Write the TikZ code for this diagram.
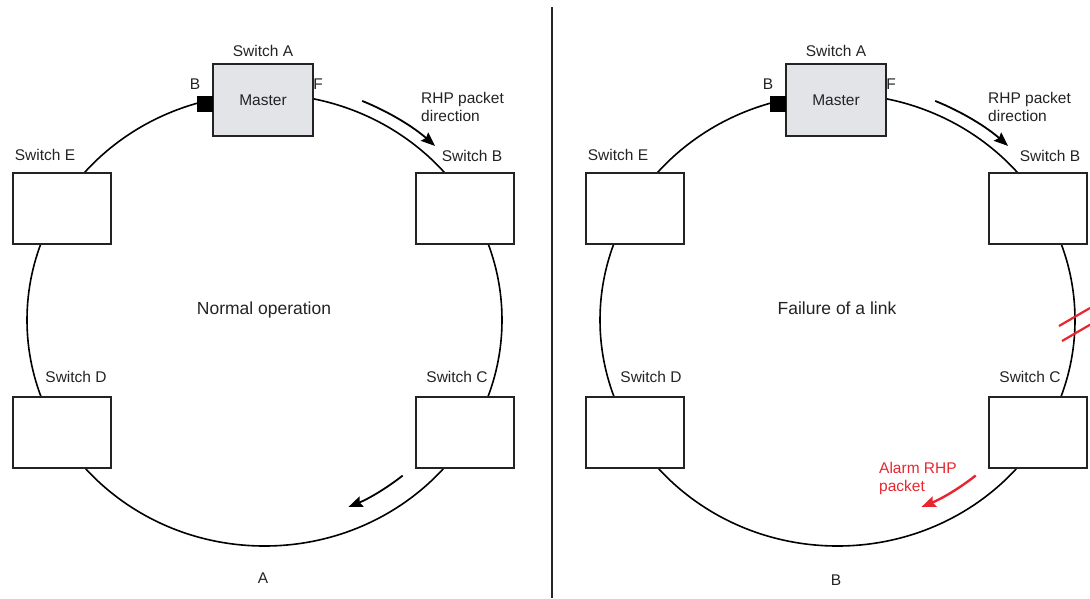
\documentclass[tikz,border=0pt]{standalone}
\usepackage{fontspec}
\setmainfont{Liberation Sans}
\usetikzlibrary{arrows.meta}
\definecolor{MasterGray}{RGB}{226,228,232}
\definecolor{AlarmRed}{RGB}{232,38,48}
\definecolor{InkGray}{RGB}{35,35,35}

\tikzset{
  swbox/.style={draw=InkGray, line width=1.6pt, fill=white, minimum width=98pt, minimum height=71pt, inner sep=0pt},
  masterbox/.style={swbox, fill=MasterGray, minimum width=100pt, minimum height=72pt},
  portbox/.style={fill=black, minimum width=16pt, minimum height=16pt, inner sep=0pt},
  ring/.style={line width=1.6pt},
  lbl/.style={inner sep=0pt},
  flow/.style={line width=1.8pt, -{Stealth[length=14pt, width=11pt, inset=2pt]}},
}

\begin{document}
\begin{tikzpicture}[x=1pt, y=-1pt, font=\fontsize{15.5}{18}\selectfont, text=InkGray]
  \useasboundingbox (0,0) rectangle (1090,598);

  % Divider
  \draw[line width=1.6pt, black!85] (552,7) -- (552,598);

  % Panel A
  \begin{scope}
    \coordinate (ctrA) at (264.5,320);
    \draw[ring] (ctrA) ellipse [x radius=237.5, y radius=226];

    \node[masterbox] (swAa) at (263,100) {Master};
    \node[portbox] (portBa) at (205,104) {};
    \node[swbox] (swBa) at (465,208.5) {};
    \node[swbox] (swCa) at (465,432.5) {};
    \node[swbox] (swDa) at (62,432.5) {};
    \node[swbox] (swEa) at (62,208.5) {};

    \node[lbl] at (263,51) {Switch A};
    \node[lbl] at (195,84) {B};
    \node[lbl] at (318,84) {F};
    \node[lbl] at (472,156) {Switch B};
    \node[lbl] at (457,377) {Switch C};
    \node[lbl] at (76,377) {Switch D};
    \node[lbl] at (45,155) {Switch E};

    % Direction
    \draw[flow] ([shift={(-67:250 and 238)}]ctrA) arc [start angle=-67, end angle=-47, x radius=250, y radius=238];
    \node[lbl, anchor=west, align=left] at (421,107) {RHP packet\\direction};
    \draw[flow] ([shift={(50:215 and 203)}]ctrA) arc [start angle=50, end angle=67, x radius=215, y radius=203];

    \node[lbl, font=\fontsize{17.5}{20}\selectfont] at (264,310) {Normal operation};
    \node[lbl] at (263,578) {A};
  \end{scope}

  % Panel B
  \begin{scope}[xshift=573pt]
    \coordinate (ctrB) at (264.5,320);
    \draw[ring] (ctrB) ellipse [x radius=237.5, y radius=226];

    \node[masterbox] (swAb) at (263,100) {Master};
    \node[portbox] (portBb) at (205,104) {};
    \node[swbox] (swBb) at (465,208.5) {};
    \node[swbox] (swCb) at (465,432.5) {};
    \node[swbox] (swDb) at (62,432.5) {};
    \node[swbox] (swEb) at (62,208.5) {};

    \node[lbl] at (263,51) {Switch A};
    \node[lbl] at (195,84) {B};
    \node[lbl] at (318,84) {F};
    \node[lbl] at (477,156) {Switch B};
    \node[lbl] at (457,377) {Switch C};
    \node[lbl] at (78,377) {Switch D};
    \node[lbl] at (45,155) {Switch E};

    % Broken link
    \draw[AlarmRed, line width=2.2pt] (486,326) -- (517,308);
    \draw[AlarmRed, line width=2.2pt] (489,341) -- (520,323);

    % Direction
    \draw[flow] ([shift={(-67:250 and 238)}]ctrB) arc [start angle=-67, end angle=-47, x radius=250, y radius=238];
    \node[lbl, anchor=west, align=left] at (415,107) {RHP packet\\direction};
    \draw[flow, AlarmRed, line width=2.4pt] ([shift={(50:215 and 203)}]ctrB) arc [start angle=50, end angle=67, x radius=215, y radius=203];
    \node[lbl, anchor=west, align=left, text=AlarmRed] at (306,478) {Alarm RHP\\packet};

    \node[lbl, font=\fontsize{17.5}{20}\selectfont] at (264,308) {Failure of a link};
    \node[lbl] at (263,580) {B};
  \end{scope}
\end{tikzpicture}
\end{document}
